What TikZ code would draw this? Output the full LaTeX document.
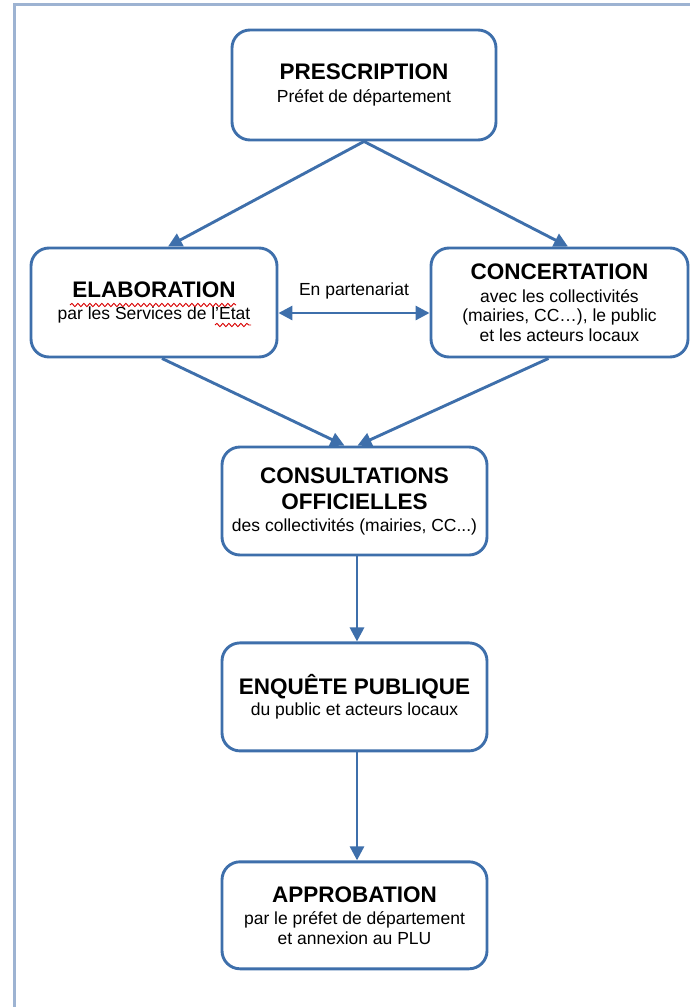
\documentclass[tikz,border=0pt]{standalone}
\usepackage{fontspec}
\setmainfont{Liberation Sans}
\usepackage{tikz}
\usetikzlibrary{positioning, arrows.meta, calc, decorations.pathmorphing}

\definecolor{linkblue}{HTML}{3E6FAB}
\definecolor{framegray}{HTML}{9DB3D2}
\newcommand{\stagetitle}[1]{{\fontsize{22.5}{26}\selectfont\bfseries #1}}

\begin{document}
\begin{tikzpicture}[
        x=1pt, y=-1pt,
        node distance=85pt,
        stage/.style={rectangle, rounded corners=18pt, draw=linkblue, line width=2.9pt, fill=white, minimum width=265pt, minimum height=108pt, align=center, font=\fontsize{17.5}{19.5}\selectfont},
        flow/.style={-{Triangle[length=14pt, width=14pt]}, draw=linkblue, line width=2.9pt},
        both/.style={{Triangle[length=14pt, width=14pt]}-{Triangle[length=14pt, width=14pt]}, draw=linkblue, line width=2.9pt},
        spellmark/.style={draw=red!85!black, line width=0.9pt, decorate, decoration={snake, segment length=6pt, amplitude=1.6pt}}
    ]
    \useasboundingbox (0,0) rectangle (690,1007);

    % Page frame (only top and left edges visible)
    \draw[framegray, line width=3pt] (14,1007) -- (14,4) -- (690,4);

    % Stages
    \node[stage, minimum width=264pt, minimum height=110pt] (presc) at (364,85) {\stagetitle{PRESCRIPTION}\\[3pt]Préfet de département};
    \node[stage, minimum width=246pt, minimum height=109pt] (elab) at (154,302.5) {\stagetitle{ELABORATION}\\[3pt]par les Services de l’Etat};
    \node[stage, minimum width=257pt, minimum height=109pt] (concert) at (559.5,302.5) {\stagetitle{CONCERTATION}\\[3pt]avec les collectivités\\(mairies, CC…), le public\\et les acteurs locaux};
    \node[stage] (consult) at (354.5,501) {\stagetitle{CONSULTATIONS}\\[7pt]\stagetitle{OFFICIELLES}\\[2pt]des collectivités (mairies, CC...)};
    \node[stage, below=85pt of consult] (enquete) {\stagetitle{ENQUÊTE PUBLIQUE}\\[2pt]du public et acteurs locaux};
    \node[stage, minimum height=107pt, below=108pt of enquete] (approb) {\stagetitle{APPROBATION}\\[3pt]par le préfet de département\\et annexion au PLU};

    % Spell-check marks
    \draw[spellmark] (70,305) -- (236,305);
    \draw[spellmark] (215,325) -- (251,325);

    % Prescription to both branches
    \draw[flow] (presc.south) -- ([xshift=14pt]elab.north);
    \draw[flow] (presc.south) -- ([xshift=8.5pt]concert.north);

    % Partnership
    \draw[both] ([yshift=-10.5pt]elab.east) -- ([yshift=-10.5pt]concert.west)
        node[midway, above=9pt, font=\fontsize{17.5}{19.5}\selectfont] (partner) {En partenariat};

    % Branches to consultations
    \draw[flow] ([xshift=8pt]elab.south) -- ([xshift=-10pt]consult.north);
    \draw[flow] ([xshift=-11pt]concert.south) -- ([xshift=3pt]consult.north);

    % Main column
    \draw[flow] ([xshift=2.5pt]consult.south) -- ([xshift=2.5pt]enquete.north);
    \draw[flow] ([xshift=2.5pt]enquete.south) -- ([xshift=2.5pt]approb.north);

\end{tikzpicture}
\end{document}
